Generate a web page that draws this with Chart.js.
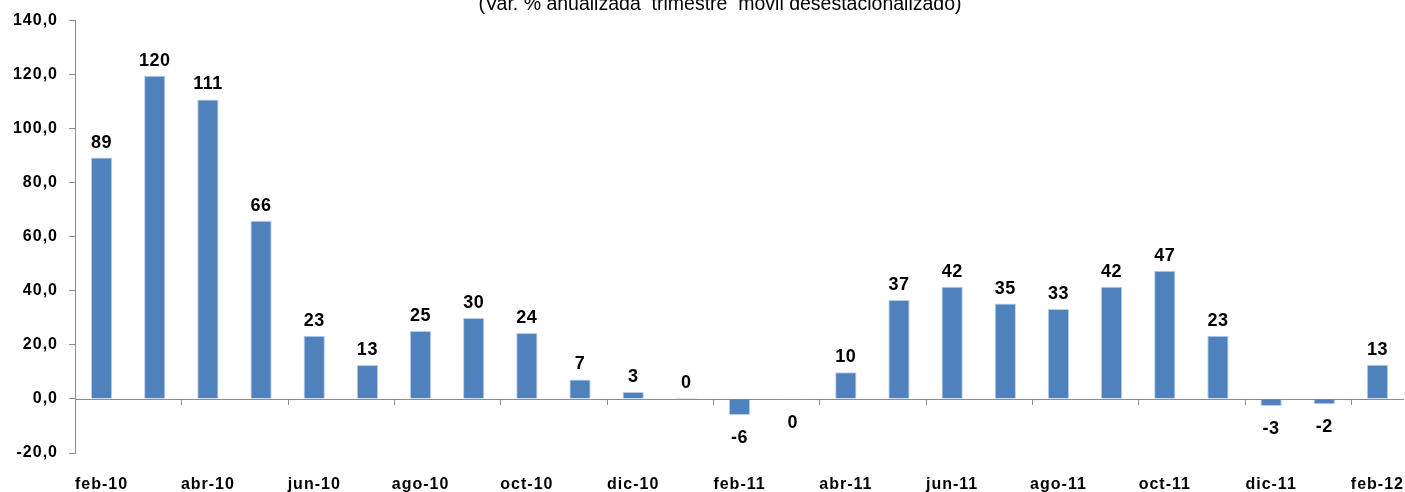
<!DOCTYPE html>
<html>
<head>
<meta charset="utf-8">
<script src="https://cdn.jsdelivr.net/npm/chart.js@4.4.0/dist/chart.umd.min.js"></script>
<style>
  html, body { margin: 0; padding: 0; background: #fff; }
  #wrap { width: 1405px; height: 492px; }
</style>
</head>
<body>
<div id="wrap"><canvas id="graph"></canvas></div>
<script>
// =========================== Data
meses = ['feb-10','mar-10','abr-10','may-10','jun-10','jul-10','ago-10','sep-10','oct-10','nov-10','dic-10','ene-11',
         'feb-11','mar-11','abr-11','may-11','jun-11','jul-11','ago-11','sep-11','oct-11','nov-11','dic-11','ene-12','feb-12']
valores = [89.3, 119.6, 110.8, 65.9, 23.4, 12.6, 25.1, 30.0, 24.4, 7.2, 2.6, 0.4,
           -5.9, -0.3, 9.9, 36.6, 41.5, 35.3, 33.3, 41.5, 47.4, 23.4, -2.6, -2.0, 12.7]
titulo = '(Var. % anualizada  trimestre  móvil desestacionalizado)'

const fuente = 'Liberation Sans, Arial, sans-serif'

// =========================== Plugins
const etiquetas = {
    id: 'etiquetas',
    afterDatasetsDraw(chart){
        const ctx = chart.ctx
        const meta = chart.getDatasetMeta(0)
        const y0 = chart.scales.y.getPixelForValue(0)
        ctx.save()
        ctx.letterSpacing = '0.5px'
        ctx.font = 'bold 18px ' + fuente
        ctx.fillStyle = '#000'
        ctx.textAlign = 'center'
        meta.data.forEach((bar, i) => {
            const v = valores[i]
            let txt = Math.round(v).toString()
            if(txt == '-0') txt = '0'
            if(v >= 0){
                ctx.textBaseline = 'bottom'
                ctx.fillText(txt, bar.x, Math.min(bar.y, y0) - 6)
            }else{
                ctx.textBaseline = 'top'
                ctx.fillText(txt, bar.x, Math.max(bar.y, y0) + 14)
            }
        })
        ctx.restore()
    }
}

const ejeCero = {
    id: 'ejeCero',
    beforeDraw(chart){
        chart.ctx.letterSpacing = '1px'
    },
    beforeDatasetsDraw(chart){
        const ctx = chart.ctx
        const x = chart.scales.x
        const y0 = chart.scales.y.getPixelForValue(0)
        const area = chart.chartArea
        const paso = x.getPixelForValue(1) - x.getPixelForValue(0)
        ctx.save()
        ctx.strokeStyle = '#8c8c8c'
        ctx.lineWidth = 1
        ctx.beginPath()
        ctx.moveTo(area.left, Math.round(y0) + 0.5)
        ctx.lineTo(area.right, Math.round(y0) + 0.5)
        for(let i = 2; i < meses.length; i += 2){
            const px = Math.round(x.getPixelForValue(i) - paso / 2) + 0.5
            ctx.moveTo(px, y0)
            ctx.lineTo(px, y0 + 6)
        }
        ctx.stroke()
        ctx.restore()
    },
    afterDraw(chart){
        const ctx = chart.ctx
        ctx.save()
        ctx.letterSpacing = '0px'
        ctx.font = '19.5px ' + fuente
        ctx.fillStyle = '#000'
        ctx.textAlign = 'center'
        ctx.textBaseline = 'alphabetic'
        ctx.fillText(titulo, 720, 10)
        ctx.restore()
        ctx.letterSpacing = '0px'
    }
}

// =========================== Chart
const cv = document.getElementById('graph')
new Chart(cv, {
    type: 'bar',
    data: {
        labels: meses,
        datasets: [{
            data: valores,
            backgroundColor: '#4F81BD',
            borderColor: '#B9CDE5',
            borderWidth: 1,
            barPercentage: 0.8,
            categoryPercentage: 0.5,
        }]
    },
    options: {
        responsive: true,
        maintainAspectRatio: false,
        animation: false,
        layout: { padding: { top: 16.5, right: 1, left: 0, bottom: 0 } },
        scales: {
            x: {
                grid: { display: false },
                border: { display: false },
                ticks: {
                    autoSkip: false,
                    maxRotation: 0,
                    padding: 14,
                    color: '#000',
                    font: { family: fuente, size: 16, weight: 'bold' },
                    callback: function(v, i){ return i % 2 == 0 ? meses[i] : '' }
                },
                afterFit: function(s){ s.height = 39; s.paddingLeft = 0; s.paddingRight = 0 }
            },
            y: {
                min: -20,
                max: 140,
                ticks: {
                    stepSize: 20,
                    padding: 11,
                    color: '#000',
                    font: { family: fuente, size: 16, weight: 'bold' },
                    callback: function(v){ return v.toFixed(1).replace('.', ',') }
                },
                grid: { display: true, drawOnChartArea: false, tickLength: 6, color: '#8c8c8c' },
                border: { display: true, color: '#8c8c8c' },
                afterFit: function(s){ s.width = 75 }
            }
        },
        plugins: {
            legend: { display: false },
            tooltip: { enabled: false }
        }
    },
    plugins: [ejeCero, etiquetas]
})
</script>
</body>
</html>
